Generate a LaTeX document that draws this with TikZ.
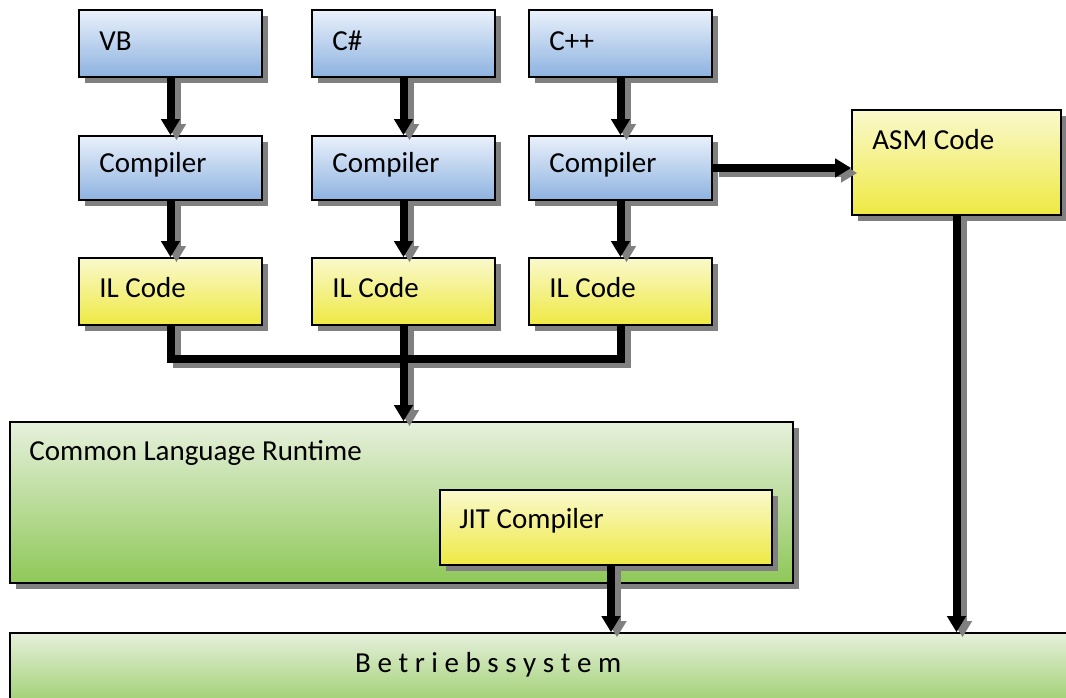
\documentclass[tikz,border=0pt]{standalone}
\usepackage{fontspec}
\setmainfont{Carlito}
\usetikzlibrary{shadows,arrows.meta,calc}

\definecolor{bluetop}{RGB}{234,241,251}
\definecolor{bluebot}{RGB}{141,178,224}
\definecolor{yeltop}{RGB}{250,249,205}
\definecolor{yelbot}{RGB}{238,233,66}
\definecolor{grntop}{RGB}{230,240,220}
\definecolor{grnbot}{RGB}{143,200,88}
\definecolor{shadowgray}{RGB}{128,128,128}

\tikzset{
  box/.style={draw=black, line width=1.6pt, inner sep=0pt,
    drop shadow={shadow xshift=6pt, shadow yshift=-6pt,
                 fill=shadowgray, opacity=1}},
  bluebox/.style={box, top color=bluetop, bottom color=bluebot},
  yellowbox/.style={box, top color=yeltop, bottom color=yelbot},
  greenbox/.style={box, top color=grntop, bottom color=grnbot},
  lbl/.style={anchor=base west, inner sep=0pt,
    font=\fontsize{29}{34}\selectfont},
  flow/.style={line width=8pt, draw=black, line join=miter,
    -{Triangle[length=16pt,width=18pt]}},
  flowshadow/.style={flow, draw=shadowgray, fill=shadowgray},
  joinline/.style={line width=8pt, draw=black, line join=miter},
  joinshadow/.style={joinline, draw=shadowgray},
}

\newcommand{\boxat}[6]{% name, style, left, top, right, bottom
  \node[#2, minimum width={(#5-#3)*1pt}, minimum height={(#6-#4)*1pt}]
    (#1) at ({(#3+#5)/2},{(#4+#6)/2}) {};}

\begin{document}
\begin{tikzpicture}[x=1pt,y=-1pt]
\useasboundingbox (0,0) rectangle (1066,697);
\clip (0,0) rectangle (1066,697);

% source languages
\boxat{vb}{bluebox}{79}{10}{262}{77}
\boxat{cs}{bluebox}{312}{10}{495}{77}
\boxat{cpp}{bluebox}{529}{10}{712}{77}
% compilers
\boxat{cvb}{bluebox}{79}{136}{262}{200}
\boxat{ccs}{bluebox}{312}{136}{495}{200}
\boxat{ccpp}{bluebox}{529}{136}{712}{200}
% intermediate code
\boxat{ilvb}{yellowbox}{79}{258}{262}{325}
\boxat{ilcs}{yellowbox}{312}{258}{495}{325}
\boxat{ilcpp}{yellowbox}{529}{258}{712}{325}
% native code
\boxat{asm}{yellowbox}{852}{110}{1061}{215}
% runtime
\boxat{clr}{greenbox}{10}{422}{793}{583}
\boxat{jit}{yellowbox}{440}{490}{772}{565}
% operating system
\boxat{os}{greenbox}{10}{633}{1090}{720}

% labels
\node[lbl] (vbt)   at ([shift={(21,41)}]vb.north west) {VB};
\node[lbl] (cst)   at ([shift={(21,41)}]cs.north west) {C\#};
\node[lbl] (cppt)  at ([shift={(21,41)}]cpp.north west) {C++};
\node[lbl] (cvbt)  at ([shift={(21,37)}]cvb.north west) {Compiler};
\node[lbl] (ccst)  at ([shift={(21,37)}]ccs.north west) {Compiler};
\node[lbl] (ccppt) at ([shift={(21,37)}]ccpp.north west) {Compiler};
\node[lbl] (ilvbt) at ([shift={(21,40)}]ilvb.north west) {IL Code};
\node[lbl] (ilcst) at ([shift={(21,40)}]ilcs.north west) {IL Code};
\node[lbl] (ilcppt) at ([shift={(21,40)}]ilcpp.north west) {IL Code};
\node[lbl] (asmt)  at ([shift={(21,40)}]asm.north west) {ASM Code};
\node[lbl] (clrt)  at ([shift={(20,39)}]clr.north west) {Common Language Runtime};
\node[lbl] (jitt)  at ([shift={(20,39)}]jit.north west) {JIT Compiler};
\node[lbl] (ost)   at (355,672) {B e t r i e b s s y s t e m};

% junction of the three IL outputs
\coordinate (merge) at ($(ilcs.south)+(0,33)$);

% connector shadows, offset right and down
\begin{scope}[transform canvas={shift={(6pt,-5pt)}}]
  \foreach \a/\b in {vb/cvb, cs/ccs, cpp/ccpp, cvb/ilvb, ccs/ilcs, ccpp/ilcpp}
    \draw[flowshadow] (\a.south) -- (\b.north);
  \draw[joinshadow] (ilvb.south) -- (ilvb.south |- merge) -- (ilcpp.south |- merge) -- (ilcpp.south);
  \draw[flowshadow] (ilcs.south) -- (ilcs.south |- clr.north);
  \draw[flowshadow] (ccpp.east) -- (ccpp.east -| asm.west);
  \draw[flowshadow] (asm.south) -- (asm.south |- os.north);
  \draw[flowshadow] ([xshift=5]jit.south) -- ([xshift=5]jit.south |- os.north);
\end{scope}

% connectors
\foreach \a/\b in {vb/cvb, cs/ccs, cpp/ccpp, cvb/ilvb, ccs/ilcs, ccpp/ilcpp}
  \draw[flow] (\a.south) -- (\b.north);
\draw[joinline] (ilvb.south) -- (ilvb.south |- merge) -- (ilcpp.south |- merge) -- (ilcpp.south);
\draw[flow] (ilcs.south) -- (ilcs.south |- clr.north);
\draw[flow] (ccpp.east) -- (ccpp.east -| asm.west);
\draw[flow] (asm.south) -- (asm.south |- os.north);
\draw[flow] ([xshift=5]jit.south) -- ([xshift=5]jit.south |- os.north);
\end{tikzpicture}
\end{document}
